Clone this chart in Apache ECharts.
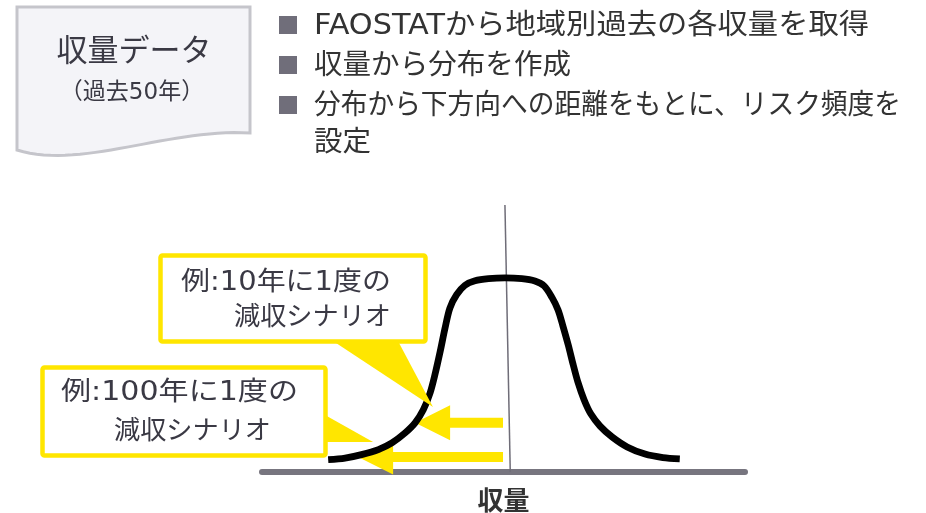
<!DOCTYPE html>
<html><head><meta charset="utf-8">
<script src="https://cdn.jsdelivr.net/npm/echarts@6/dist/echarts.min.js"></script>
<style>html,body{margin:0;padding:0;background:#fff}#c{width:926px;height:513px}</style>
</head><body><div id="c"></div>
<script>
// Distribution curve (x: yield, y: frequency, 0-100 scale)
const curveX = [13.7, 17.2, 20.6, 24.1, 26.9, 29.6, 31.7, 33.4, 34.8, 35.8, 36.9, 37.9, 38.9, 40.3, 42.0, 44.1, 46.9, 50.3,
                53.8, 56.5, 58.4, 60.0, 61.3, 62.3, 63.4, 64.4, 65.4, 66.7, 68.1, 70.0, 72.5, 75.6, 79.3, 83.0, 86.5];
const curveY = [4.6, 5.2, 6.5, 8.4, 10.9, 14.6, 18.4, 23.3, 29.6, 36.4, 45.2, 53.9, 61.4, 66.4, 69.9, 71.6, 72.4, 72.7,
                72.4, 71.5, 69.7, 65.5, 60.7, 54.7, 47.6, 40.4, 33.7, 27.0, 21.7, 17.2, 13.1, 9.4, 6.7, 5.4, 4.9];
// Mean reference line (top, bottom)
const meanLineX = [50.3, 51.4];
const meanLineY = [100, 0];
// Arrows: start x, level y, tip x
const arrowStartX = [49.9, 49.9];
const arrowLevelY = [18.4, 5.6];
const arrowTipX = [31.7, 19.9];
// Callout texts and pointer tips
const calloutLine1 = ['例:10年に1度の', '例:100年に1度の'];
const calloutLine2 = ['減収シナリオ', '減収シナリオ'];
const calloutTipX = [35.4, 23.0];
const calloutTipY = [24.3, 11.2];
const axisName = '収量';
const docTitle = '収量データ';
const docSub = '（過去50年）';
const bullets = ['FAOSTATから地域別過去の各収量を取得', '収量から分布を作成', '分布から下方向への距離をもとに、リスク頻度を', '設定'];

const FONT = '"DejaVu Sans","Noto Sans CJK JP",sans-serif';
const YEL = '#FFE600';
const TXT = '#3a3944';

const chart = echarts.init(document.getElementById('c'));
const option = {
  animation: false,
  grid: { left: 262, right: 181, top: 205, bottom: 41, outerBoundsMode: 'none', containLabel: false },
  xAxis: {
    type: 'value', min: 0, max: 100,
    axisLine: { show: true, lineStyle: { color: '#77757f', width: 6 } },
    axisTick: { show: false }, axisLabel: { show: false }, splitLine: { show: false },
    name: axisName, nameLocation: 'middle', nameGap: 15,
    nameTextStyle: { fontFamily: '"Noto Sans CJK JP",sans-serif', fontSize: 26, fontWeight: 'bold', color: '#333' }
  },
  yAxis: {
    type: 'value', min: 0, max: 100,
    axisLine: { show: false }, axisTick: { show: false }, axisLabel: { show: false }, splitLine: { show: false }
  },
  series: [
    {
      type: 'line', z: 1, silent: true, symbol: 'none',
      data: meanLineX.map((x, i) => [x, meanLineY[i]]),
      lineStyle: { color: '#6f6d78', width: 1.5 }
    },
    {
      type: 'custom', z: 2, silent: true,
      data: arrowStartX.map((x, i) => [x, arrowLevelY[i], arrowTipX[i]]),
      renderItem: function (params, api) {
        const p0 = api.coord([api.value(0), api.value(1)]);
        const p1 = api.coord([api.value(2), api.value(1)]);
        const y = p0[1], hl = 35, hw = 17.5, sw = 5;
        return {
          type: 'polygon',
          shape: { points: [[p1[0], y], [p1[0] + hl, y - hw], [p1[0] + hl, y - sw], [p0[0], y - sw], [p0[0], y + sw], [p1[0] + hl, y + sw], [p1[0] + hl, y + hw]] },
          style: { fill: YEL }
        };
      }
    },
    {
      type: 'line', z: 3, silent: true, symbol: 'none', smooth: 0.3,
      data: curveX.map((x, i) => [x, curveY[i]]),
      lineStyle: { color: '#000', width: 6.8, cap: 'butt' }
    }
  ]
};
chart.setOption(option);

// text helper: fit text horizontally to a target width (layout only)
const mctx = document.createElement('canvas').getContext('2d');
function fitText(text, x, y, size, targetW, color, z) {
  const font = size + 'px ' + FONT;
  mctx.font = font;
  const w = mctx.measureText(text).width;
  return { type: 'text', z: z, x: x, y: y, scaleX: targetW / w, scaleY: 1, originX: 0, originY: 0,
    style: { text: text, font: font, fill: color, verticalAlign: 'middle', align: 'left' } };
}

// Document shape with wavy bottom
function bez(p0, p1, p2, p3, t) {
  const u = 1 - t;
  return [u*u*u*p0[0] + 3*u*u*t*p1[0] + 3*u*t*t*p2[0] + t*t*t*p3[0],
          u*u*u*p0[1] + 3*u*u*t*p1[1] + 3*u*t*t*p2[1] + t*t*t*p3[1]];
}
const docPts = [[17, 7], [250, 7], [250, 133]];
for (let i = 1; i <= 30; i++) docPts.push(bez([250, 133], [170, 128], [80, 170], [17, 150], i / 30));

const tip1 = chart.convertToPixel({ gridIndex: 0 }, [calloutTipX[0], calloutTipY[0]]);
const tip2 = chart.convertToPixel({ gridIndex: 0 }, [calloutTipX[1], calloutTipY[1]]);

const bulletY = [27, 67, 107, 144];
const bulletW = [555, 257, 587, 57];
const graphics = [
  { type: 'polygon', z: 10, shape: { points: docPts }, style: { fill: '#f4f4f8', stroke: '#c5c5cb', lineWidth: 3 } },
  { type: 'text', z: 11, x: 134, y: 53, style: { text: docTitle, font: '31px ' + FONT, fill: TXT, align: 'center', verticalAlign: 'middle' } },
  { type: 'text', z: 11, x: 132, y: 93, style: { text: docSub, font: '23px ' + FONT, fill: TXT, align: 'center', verticalAlign: 'middle' } },
  // callout 1
  { type: 'rect', z: 20, shape: { x: 160.5, y: 255.5, width: 265, height: 86, r: 2 }, style: { fill: '#fff', stroke: YEL, lineWidth: 4.5 } },
  { type: 'polygon', z: 21, shape: { points: [[333, 341], [398, 341], tip1] }, style: { fill: YEL } },
  fitText(calloutLine1[0], 181, 283, 26, 210, TXT, 22),
  fitText(calloutLine2[0], 234, 318, 26, 157, TXT, 22),
  // callout 2
  { type: 'rect', z: 20, shape: { x: 42.5, y: 367.5, width: 283, height: 88, r: 2 }, style: { fill: '#fff', stroke: YEL, lineWidth: 4.5 } },
  { type: 'polygon', z: 21, shape: { points: [[325, 415], tip2, [325, 442]] }, style: { fill: YEL } },
  fitText(calloutLine1[1], 61, 393, 26, 237, TXT, 22),
  fitText(calloutLine2[1], 114, 432, 26, 157, TXT, 22)
];
bullets.forEach((b, i) => {
  if (i < 3) graphics.push({ type: 'rect', z: 10, shape: { x: 279, y: bulletY[i] - 11, width: 18, height: 18 }, style: { fill: '#706e7a' } });
  graphics.push(fitText(b, 314, bulletY[i], 28, bulletW[i], '#333', 10));
});
chart.setOption({ graphic: { elements: graphics } });
</script>
</body></html>
